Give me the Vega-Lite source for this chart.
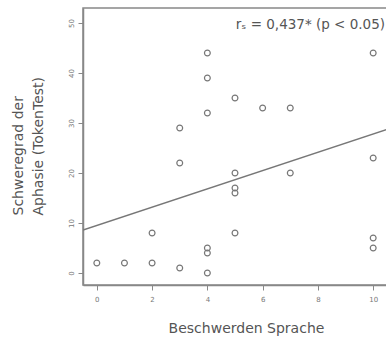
{
  "$schema": "https://vega.github.io/schema/vega-lite/v6.json",
  "width": 304,
  "height": 277,
  "autosize": "none",
  "padding": {"left": 83, "top": 8, "right": 0, "bottom": 53},
  "background": "white",
  "config": {
    "font": "DejaVu Sans",
    "view": {"stroke": "#888", "strokeWidth": 1.5}
  },
  "datasets": {
    "points": [
      {"Beschwerden": 0, "Schweregrad": 2},
      {"Beschwerden": 1, "Schweregrad": 2},
      {"Beschwerden": 2, "Schweregrad": 2},
      {"Beschwerden": 2, "Schweregrad": 8},
      {"Beschwerden": 3, "Schweregrad": 1},
      {"Beschwerden": 3, "Schweregrad": 22},
      {"Beschwerden": 3, "Schweregrad": 29},
      {"Beschwerden": 4, "Schweregrad": 44},
      {"Beschwerden": 4, "Schweregrad": 39},
      {"Beschwerden": 4, "Schweregrad": 32},
      {"Beschwerden": 4, "Schweregrad": 5},
      {"Beschwerden": 4, "Schweregrad": 4},
      {"Beschwerden": 4, "Schweregrad": 0},
      {"Beschwerden": 5, "Schweregrad": 35},
      {"Beschwerden": 5, "Schweregrad": 20},
      {"Beschwerden": 5, "Schweregrad": 17},
      {"Beschwerden": 5, "Schweregrad": 16},
      {"Beschwerden": 5, "Schweregrad": 8},
      {"Beschwerden": 6, "Schweregrad": 33},
      {"Beschwerden": 7, "Schweregrad": 33},
      {"Beschwerden": 7, "Schweregrad": 20},
      {"Beschwerden": 10, "Schweregrad": 44},
      {"Beschwerden": 10, "Schweregrad": 23},
      {"Beschwerden": 10, "Schweregrad": 7},
      {"Beschwerden": 10, "Schweregrad": 5}
    ],
    "fit": [
      {"Beschwerden": -0.5, "Schweregrad": 8.6},
      {"Beschwerden": 10.5, "Schweregrad": 28.7}
    ]
  },
  "layer": [
    {
      "data": {"name": "points"},
      "mark": {"type": "point", "shape": "circle", "filled": false, "size": 34, "stroke": "#777", "strokeWidth": 1.2, "opacity": 1},
      "encoding": {
        "x": {
          "field": "Beschwerden", "type": "quantitative",
          "scale": {"domain": [-0.5, 10.5], "nice": false, "zero": false},
          "axis": {
            "title": "Beschwerden Sprache",
            "values": [0, 2, 4, 6, 8, 10],
            "grid": false,
            "domainColor": "#888", "domainWidth": 1.5,
            "tickColor": "#888", "tickSize": 5,
            "labelFontSize": 7, "labelColor": "#777", "labelPadding": 5,
            "titleFontSize": 14, "titleFontWeight": "normal", "titleColor": "#555",
            "titleAlign": "center", "titleBaseline": "alphabetic", "titleX": 163, "titleY": 47
          }
        },
        "y": {
          "field": "Schweregrad", "type": "quantitative",
          "scale": {"domain": [-2.4, 53], "nice": false, "zero": false},
          "axis": {
            "title": ["Schweregrad der", "Aphasie (TokenTest)"],
            "values": [0, 10, 20, 30, 40, 50],
            "grid": false,
            "domainColor": "#888", "domainWidth": 1.5,
            "tickColor": "#888", "tickSize": 5,
            "labelFontSize": 7, "labelColor": "#777", "labelAngle": -90, "labelAlign": "center", "labelBaseline": "bottom", "labelPadding": 4,
            "titleFontSize": 14, "titleFontWeight": "normal", "titleColor": "#555",
            "titleAlign": "left", "titleBaseline": "middle", "titleAngle": -90,
            "titleX": -65, "titleY": 207, "titleLineHeight": 20
          }
        }
      }
    },
    {
      "data": {"name": "fit"},
      "mark": {"type": "line", "color": "#777", "strokeWidth": 1.5, "clip": true},
      "encoding": {
        "x": {"field": "Beschwerden", "type": "quantitative"},
        "y": {"field": "Schweregrad", "type": "quantitative"}
      }
    },
    {
      "data": {"values": [{"label": "rₛ = 0,437* (p < 0.05)"}]},
      "mark": {"type": "text", "align": "right", "baseline": "middle", "fontSize": 13.5, "color": "#555", "dx": -2},
      "encoding": {
        "x": {"datum": 10.5, "type": "quantitative"},
        "y": {"datum": 49.6, "type": "quantitative"},
        "text": {"field": "label"}
      }
    }
  ]
}
